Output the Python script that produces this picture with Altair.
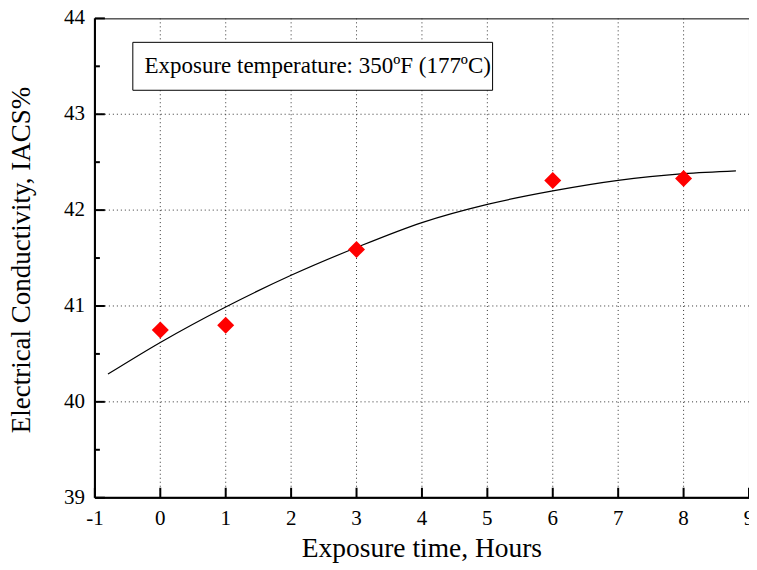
import altair as alt
import pandas as pd

# measured points
time_h = [0, 1, 3, 6, 8]
conductivity = [40.75, 40.80, 41.59, 42.31, 42.33]

# fitted curve
fit_x = [-0.8, 0, 1, 2, 3, 4, 5, 6, 7, 8, 8.8]
fit_y = [40.29, 40.62, 40.99, 41.32, 41.61, 41.87, 42.06, 42.20, 42.31, 42.38, 42.41]

x_ticks = [-1, 0, 1, 2, 3, 4, 5, 6, 7, 8, 9]
y_ticks = [39, 40, 41, 42, 43, 44]
y_minor = [39.5, 40.5, 41.5, 42.5, 43.5]
x_grid = [0, 1, 2, 3, 4, 5, 6, 7, 8]
y_grid = [40, 41, 42, 43]
x_labels = [str(v) for v in x_ticks]
y_labels = [str(v) for v in y_ticks]

note = "Exposure temperature: 350ºF (177ºC)"
box = {"x1": -0.42, "x2": 5.08, "y1": 43.25, "y2": 43.75}

W, H = 655, 480
FONT = "Liberation Serif"
XT = "Exposure time, Hours"
YT = "Electrical Conductivity, IACS%"

xs = alt.Scale(domain=[-1, 9], nice=False, zero=False)
ys = alt.Scale(domain=[39, 44], nice=False, zero=False)


def X(f):
    return alt.X(f, scale=xs, axis=None)


def Y(f):
    return alt.Y(f, scale=ys, axis=None)


pts = pd.DataFrame({"t": time_h, "c": conductivity})
fit = pd.DataFrame({"t": fit_x, "c": fit_y})

xgrid = alt.Chart(pd.DataFrame({"gx": x_grid})).mark_rule(
    color="#333", strokeWidth=1, strokeDash=[1, 3]).encode(x=X("gx:Q"))
ygrid = alt.Chart(pd.DataFrame({"gy": y_grid})).mark_rule(
    color="#333", strokeWidth=1, strokeDash=[1, 3]).encode(y=Y("gy:Q"))

# heavier left and bottom frame lines
left = alt.Chart(pd.DataFrame({"a": [0]})).mark_rule(color="black", strokeWidth=2).encode(
    x=alt.value(0), y=alt.value(0), y2=alt.value(H))
bottom = alt.Chart(pd.DataFrame({"a": [0]})).mark_rule(color="black", strokeWidth=2).encode(
    y=alt.value(H), x=alt.value(0), x2=alt.value(W))

# inward tick marks (10 px major, 5 px minor)
xt = alt.Chart(pd.DataFrame({"tx": x_ticks})).mark_rule(color="black", strokeWidth=2).encode(
    x=X("tx:Q"), y=alt.value(H), y2=alt.value(H - 10))
yt = alt.Chart(pd.DataFrame({"ty": y_ticks})).mark_rule(color="black", strokeWidth=2).encode(
    y=Y("ty:Q"), x=alt.value(0), x2=alt.value(10))
ym = alt.Chart(pd.DataFrame({"my": y_minor})).mark_rule(color="black", strokeWidth=2).encode(
    y=Y("my:Q"), x=alt.value(0), x2=alt.value(5))

# tick labels
xl = alt.Chart(pd.DataFrame({"lx": x_ticks, "s": x_labels})).mark_text(
    font=FONT, fontSize=21, color="black", align="center", baseline="middle"
).encode(x=X("lx:Q"), y=alt.value(H + 21), text="s:N")
yl = alt.Chart(pd.DataFrame({"ly": y_ticks, "s": y_labels})).mark_text(
    font=FONT, fontSize=21, color="black", align="right", baseline="middle"
).encode(y=Y("ly:Q"), x=alt.value(-10), text="s:N")

# axis titles
xtitle = alt.Chart(pd.DataFrame({"s": [XT]})).mark_text(
    font=FONT, fontSize=27.5, color="black", align="center", baseline="middle"
).encode(x=alt.value(W / 2), y=alt.value(H + 51), text="s:N")
ytitle = alt.Chart(pd.DataFrame({"s": [YT]})).mark_text(
    font=FONT, fontSize=27, color="black", align="center", baseline="middle", angle=270
).encode(x=alt.value(-73), y=alt.value(H / 2 + 2), text="s:N")

rect = alt.Chart(pd.DataFrame([box])).mark_rect(fill="white", stroke="black", strokeWidth=1).encode(
    x=X("x1:Q"), x2="x2:Q", y=Y("y1:Q"), y2="y2:Q")
txt = alt.Chart(pd.DataFrame({"x": [-0.24], "y": [43.5], "s": [note]})).mark_text(
    align="left", baseline="middle", font=FONT, fontSize=23, color="black"
).encode(x=X("x:Q"), y=Y("y:Q"), text="s:N")

line = alt.Chart(fit).mark_line(color="black", strokeWidth=1.2, interpolate="monotone").encode(
    x=X("t:Q"), y=Y("c:Q"))
dots = alt.Chart(pts).mark_point(shape="diamond", filled=True, color="#ff0000", size=290, opacity=1).encode(
    x=X("t:Q"), y=Y("c:Q"))

chart = alt.layer(xgrid, ygrid, rect, txt, line, dots, left, bottom, xt, yt, ym,
                  xl, yl, xtitle, ytitle).properties(
    width=W, height=H,
    autosize=alt.AutoSizeParams(type="none"),
    padding={"left": 87, "top": 10, "right": 0, "bottom": 70},
).configure(background="white").configure_view(stroke="black", strokeWidth=1)

chart.save("out.html", embed_options={"renderer": "svg", "actions": False})
